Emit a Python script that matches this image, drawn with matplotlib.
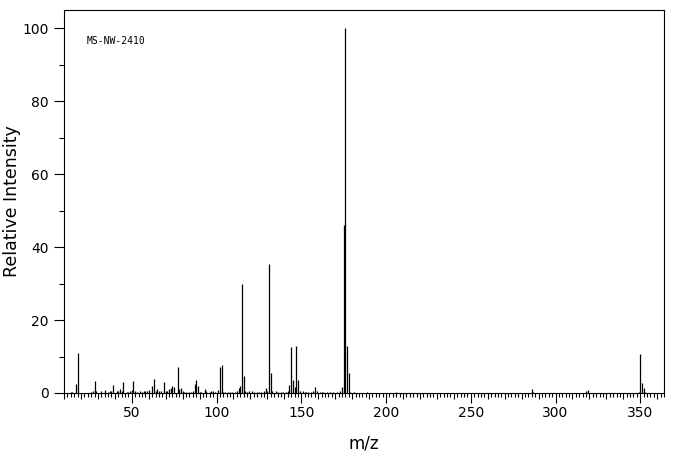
import numpy as np
import matplotlib
matplotlib.use("Agg")
import matplotlib.pyplot as plt
from matplotlib.ticker import FixedLocator, MultipleLocator, FuncFormatter

# peaks
mz = [14, 15, 17, 18, 26, 27, 28, 29, 32, 34, 36, 37, 38, 39, 41, 42, 43, 44, 45,
      47, 48, 49, 50, 51, 52, 53, 55, 56, 57, 58, 59, 60, 62, 63, 64, 65, 66, 67,
      69, 70, 71, 72, 73, 74, 75, 77, 78, 79, 80, 81, 82, 84, 85, 86, 87, 88, 89,
      90, 91, 93, 94, 96, 97, 98, 99, 101, 102, 103, 104, 105, 107, 108, 109, 111,
      112, 113, 114, 115, 116, 117, 118, 119, 121, 122, 124, 125, 126, 128, 129,
      130, 131, 132, 133, 135, 136, 138, 139, 141, 142, 143, 144, 145, 146, 147,
      148, 149, 151, 152, 153, 154, 156, 157, 158, 159, 161, 162, 163, 165, 167,
      169, 171, 173, 174, 175, 176, 177, 178, 179, 181, 189, 206, 286, 287, 318,
      319, 349, 350, 351, 352, 353]
intensity = [0.4, 0.4, 2.5, 11.0, 0.4, 0.5, 3.3, 0.5, 0.5, 0.8, 0.3, 0.5, 0.5, 2.2,
             0.5, 0.5, 1.0, 0.6, 3.0, 0.4, 0.3, 0.5, 0.8, 3.3, 0.5, 0.4, 0.5, 0.4,
             0.5, 0.5, 0.5, 0.8, 1.9, 3.9, 0.5, 1.0, 0.5, 0.5, 3.0, 0.5, 0.5, 1.0,
             1.5, 1.9, 1.7, 7.1, 1.0, 1.4, 0.5, 0.4, 0.3, 0.4, 0.4, 0.5, 2.5, 3.6,
             2.0, 0.4, 0.3, 1.1, 0.5, 0.4, 0.5, 0.5, 0.3, 0.8, 7.1, 7.8, 0.3, 0.4,
             0.3, 0.3, 0.4, 0.4, 0.5, 1.4, 2.0, 30.0, 4.7, 0.5, 0.4, 0.5, 0.5, 0.4,
             0.4, 0.4, 0.4, 0.5, 1.5, 0.5, 35.3, 5.6, 0.5, 0.5, 0.3, 0.3, 0.3, 0.3,
             0.5, 2.2, 12.7, 3.6, 1.6, 13.0, 3.6, 0.5, 0.5, 0.3, 0.3, 0.3, 0.3, 0.5,
             1.6, 0.5, 0.3, 0.4, 0.3, 0.4, 0.3, 0.4, 0.3, 0.6, 1.6, 46.0, 100.0,
             13.0, 5.5, 0.3, 0.3, 0.3, 0.3, 1.1, 0.4, 0.5, 0.8, 0.4, 10.7, 2.8, 1.4,
             0.3]
sample_id = "MS-NW-2410"

fig = plt.figure(figsize=(6.76, 4.55), dpi=100)
ax = fig.add_axes([64/676, 1 - 393/455, 600/676, 383/455])

ax.vlines(mz, 0, intensity, colors='black', lw=0.9)

ax.set_xlim(10, 364)
ax.set_ylim(0, 105)

# x ticks: every 2 (short), every 10 (medium), every 50 (long, labelled)
ax.xaxis.set_major_locator(FixedLocator(np.arange(10, 361, 10)))
ax.xaxis.set_minor_locator(MultipleLocator(2))
ax.xaxis.set_major_formatter(FuncFormatter(lambda v, p: f"{int(v)}" if v % 50 == 0 else ""))
ax.tick_params(axis='x', which='major', direction='out', length=4.5, width=0.8,
               labelsize=10, pad=5)
ax.tick_params(axis='x', which='minor', direction='out', length=2.8, width=0.8)
fig.canvas.draw()
for t, tick in zip(ax.get_xticks(), ax.xaxis.get_major_ticks()):
    if t % 50 == 0:
        tick.tick1line.set_markersize(7.5)

ax.yaxis.set_major_locator(MultipleLocator(20))
ax.yaxis.set_minor_locator(MultipleLocator(10))
ax.tick_params(axis='y', which='major', direction='out', length=7.2, width=0.8,
               labelsize=10, pad=4)
ax.tick_params(axis='y', which='minor', direction='out', length=3.6, width=0.8)

for s in ax.spines.values():
    s.set_linewidth(0.8)

ax.set_xlabel('m/z', fontsize=12, labelpad=10)
ax.set_ylabel('Relative Intensity', fontsize=12.5)
ax.yaxis.set_label_coords(-0.072, 0.5)

ax.text(0.038, 0.92, sample_id, transform=ax.transAxes, fontsize=7,
        family='DejaVu Sans Mono', va='center', ha='left')

fig.savefig('out.png', dpi=100)
